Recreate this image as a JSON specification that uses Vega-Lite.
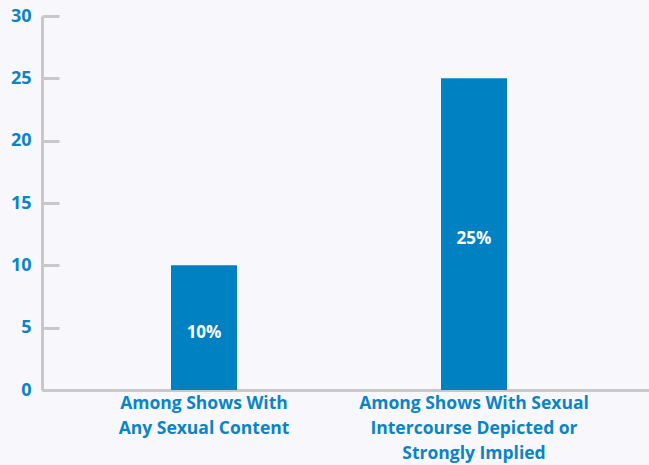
{
  "$schema": "https://vega.github.io/schema/vega-lite/v6.json",
  "width": 607,
  "height": 374,
  "autosize": "none",
  "padding": {"left": 42, "top": 16, "right": 0, "bottom": 75},
  "background": "#F8F8FC",
  "config": {"view": {"stroke": null}, "font": "Open Sans"},
  "data": {
    "values": [
      {"group": "Among Shows With|Any Sexual Content", "value": 10, "label": "10%"},
      {"group": "Among Shows With Sexual|Intercourse Depicted or|Strongly Implied", "value": 25, "label": "25%"}
    ]
  },
  "encoding": {
    "x": {
      "field": "group",
      "type": "nominal",
      "sort": null,
      "scale": {"paddingInner": 0, "paddingOuter": 0.1241, "align": 0.403},
      "axis": {
        "title": null,
        "labelAngle": 0,
        "labelExpr": "split(datum.label, '|')",
        "labelFont": "Open Sans",
        "labelFontSize": 17.5,
        "labelFontWeight": "bold",
        "labelColor": "#0A84C6",
        "labelLineHeight": 25,
        "labelPadding": 4,
        "ticks": false,
        "domainColor": "#C8C8C8",
        "domainWidth": 3,
        "labelLimit": 300
      }
    }
  },
  "layer": [
    {
      "mark": {"type": "bar", "width": 66, "color": "#0081C2"},
      "encoding": {
        "y": {
          "field": "value",
          "type": "quantitative",
          "scale": {"domain": [0, 30], "nice": false},
          "axis": {
            "title": null,
            "values": [0, 5, 10, 15, 20, 25, 30],
            "grid": false,
            "domainColor": "#C8C8C8",
            "domainWidth": 3,
            "tickColor": "#C8C8C8",
            "tickWidth": 3,
            "tickSize": -17,
            "labelPadding": 28,
            "labelFont": "Open Sans",
            "labelFontSize": 18,
            "labelFontWeight": "bold",
            "labelColor": "#0A84C6"
          }
        }
      }
    },
    {
      "mark": {"type": "text", "color": "white", "fontWeight": "bold", "fontSize": 17, "font": "Open Sans", "baseline": "middle", "dy": 5},
      "encoding": {
        "y": {"field": "value", "type": "quantitative", "scale": {"domain": [0, 60], "nice": false}, "axis": null},
        "text": {"field": "label"}
      }
    }
  ],
  "resolve": {"scale": {"y": "independent"}}
}
